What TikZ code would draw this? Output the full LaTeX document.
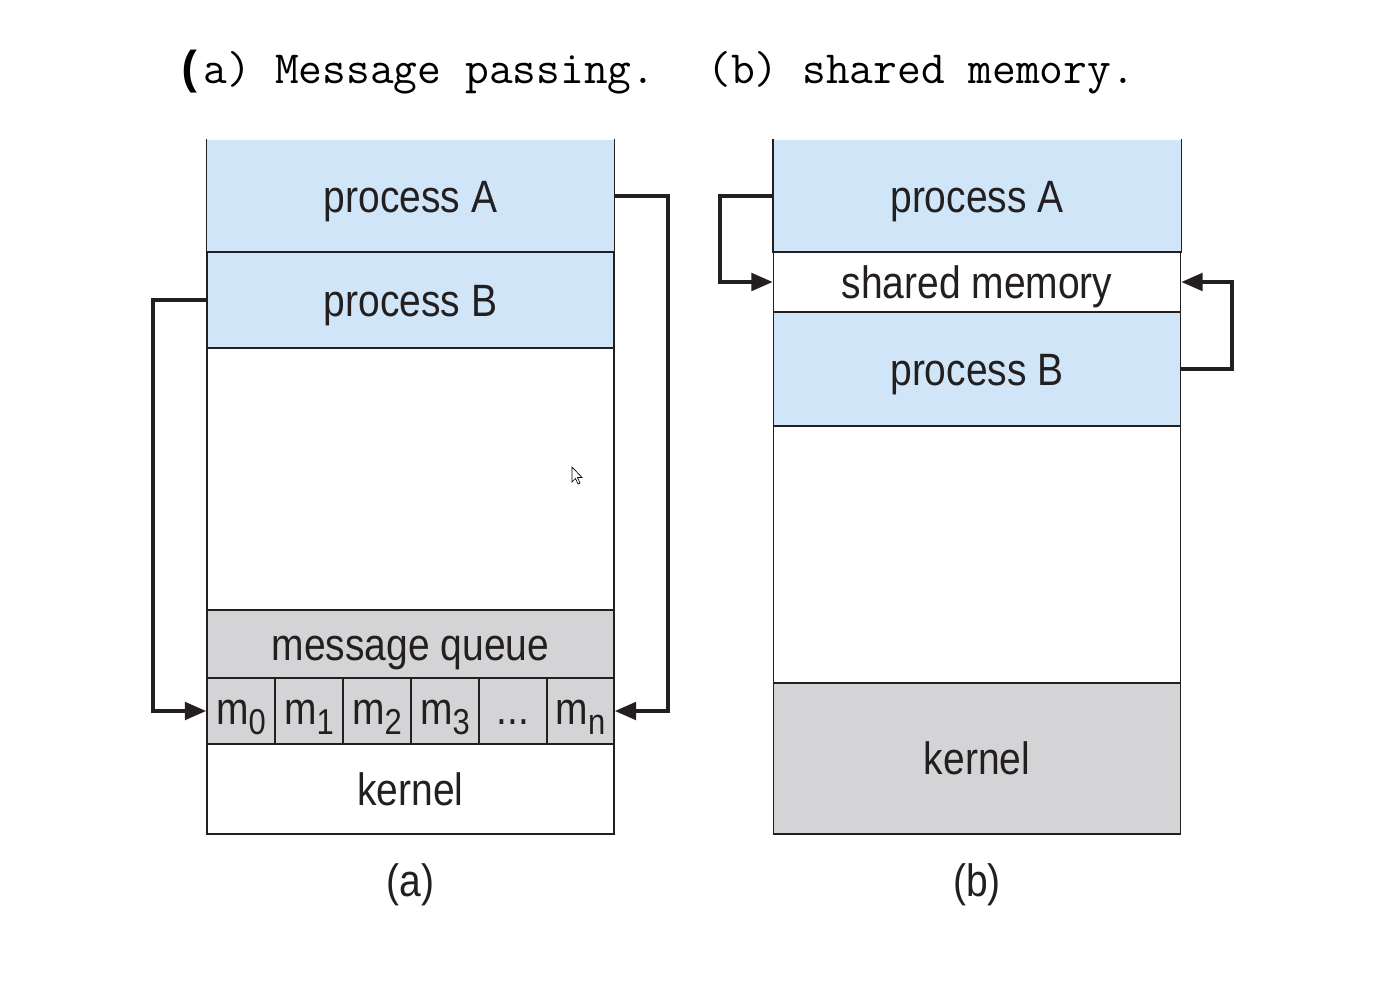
\documentclass[tikz,border=0pt]{standalone}
\usepackage{fontspec}
\usetikzlibrary{arrows.meta}
\newfontfamily\lblfont[FakeStretch=0.86]{Liberation Sans}
\newfontfamily\monobold{Liberation Mono}
\definecolor{procblue}{RGB}{208,230,248}
\definecolor{kerngray}{RGB}{212,212,214}
\definecolor{ink}{RGB}{35,31,32}
\newcommand{\msub}[1]{m\raisebox{-7.5pt}{\fontsize{27}{30}\selectfont #1}}
\begin{document}
\begin{tikzpicture}[x=0.75pt,y=-0.75pt,
  seg/.style={draw=ink,line width=1.1pt,minimum width=305.25pt,inner sep=0pt,
    text height=24.5pt,text depth=0pt,
    font=\lblfont\fontsize{34}{40}\selectfont,text=ink},
  cell/.style={draw=ink,line width=1.1pt,fill=kerngray,minimum height=49.5pt,inner sep=0pt,
    text height=20pt,text depth=0pt,
    font=\lblfont\fontsize{34}{40}\selectfont,text=ink},
  flow/.style={draw=ink,line width=3pt,-{Triangle[length=16pt,width=13pt]}},
  caption/.style={font=\lblfont\fontsize{34}{40}\selectfont,text=ink},
  heading/.style={font=\ttfamily\fontsize{34.6}{40}\selectfont,anchor=base west,inner sep=0pt}]
\useasboundingbox (0,0) rectangle (1378,996);
\fill[white] (0,0) rectangle (1378,996);

% headings
\node[heading] (ha) at (176,83) {{\monobold\bfseries(}a)\ Message\ passing.};
\node[heading] (hb) at (707,83) {(b)\ shared\ memory.};

% ---- (a) message passing ----
\node[seg,draw=none,fill=procblue,minimum height=84pt] (pAa) at (410.5,196) {process A};
\draw[ink,line width=1.1pt] (pAa.north west) -- (pAa.south west) -- (pAa.south east) -- (pAa.north east);
\node[seg,fill=procblue,minimum height=72pt] (pBa) at (410.5,300) {process B};
\node[seg,fill=white,minimum height=196.5pt] (freea) at (410.5,479) {};
\node[seg,fill=kerngray,minimum height=51pt] (mq) at (410.5,644) {message queue};
\node[cell,minimum width=51pt] (m0) at (241,711) {\msub{0}};
\node[cell,minimum width=51pt] (m1) at (309,711) {\msub{1}};
\node[cell,minimum width=51pt] (m2) at (377,711) {\msub{2}};
\node[cell,minimum width=51pt] (m3) at (445,711) {\msub{3}};
\node[cell,minimum width=51pt] (mdots) at (513,711) {...};
\node[cell,minimum width=50.25pt] (mn) at (580.5,711) {\msub{n}};
\node[seg,fill=white,minimum height=67.5pt] (kera) at (410.5,789) {kernel};
\node[caption] (capa) at (410.5,885) {(a)};

\draw[flow] (pAa.east) -- ++(53,0) |- (mn.east);
\draw[flow] (pBa.west) -- ++(-53,0) |- (m0.west);

% pointer cursor
\draw[black,line width=0.5pt,fill=white] (572,467) -- (572,482) -- (575.5,478.5) -- (578,484) -- (580,483) -- (577.5,477.5) -- (582,477.5) -- cycle;

% ---- (b) shared memory ----
\node[seg,draw=none,fill=procblue,minimum height=84pt] (pAb) at (977,196) {process A};
\draw[ink,line width=1.1pt] (pAb.north west) -- (pAb.south west) -- (pAb.south east) -- (pAb.north east);
\node[seg,fill=white,minimum height=45pt] (shm) at (977,282) {shared memory};
\node[seg,fill=procblue,minimum height=85.5pt] (pBb) at (977,369) {process B};
\node[seg,fill=white,minimum height=192.75pt] (freeb) at (977,554.5) {};
\node[seg,fill=kerngray,minimum height=113.25pt] (kerb) at (977,758.5) {kernel};
\node[caption] (capb) at (977,885) {(b)};

\draw[flow] (pAb.west) -- ++(-53,0) |- (shm.west);
\draw[flow] (pBb.east) -- ++(51,0) |- (shm.east);
\end{tikzpicture}
\end{document}
